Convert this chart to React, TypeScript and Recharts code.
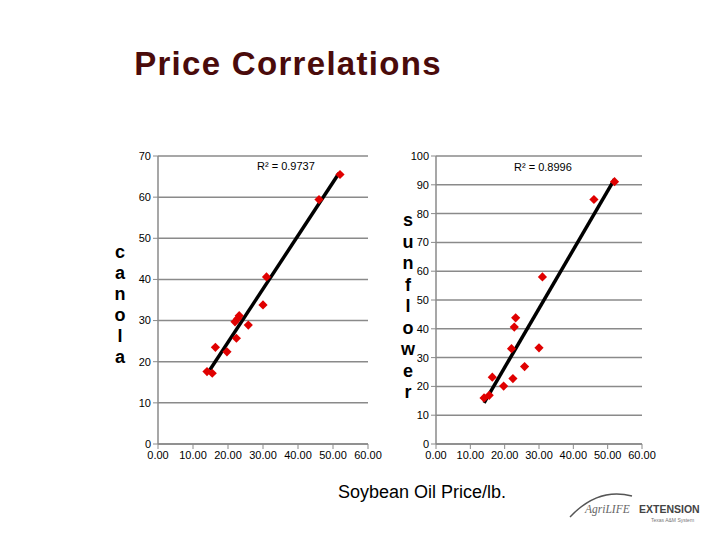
import { ScatterChart, Scatter, XAxis, YAxis, CartesianGrid } from 'recharts'

// soybean oil price (x) shared by both panels
const soyPrice = [52.0, 46.0, 31.0, 30.0, 23.2, 22.8, 22.0, 25.8, 22.4, 16.4, 19.7, 14.0, 15.5]
const canolaPrice = [65.5, 59.4, 40.6, 33.8, 31.2, 30.5, 29.7, 28.9, 25.7, 23.5, 22.4, 17.6, 17.2]
const sunflowerPrice = [91.1, 84.9, 58.0, 33.4, 43.8, 40.6, 33.1, 26.9, 22.7, 23.2, 20.1, 16.0, 16.9]

// trendline end points as drawn on the slide
const canolaTrendX = [14.8, 51.7]
const canolaTrendY = [18.0, 65.8]
const sunTrendX = [14.0, 52.0]
const sunTrendY = [14.3, 92.0]

const xTicks = [0, 10, 20, 30, 40, 50, 60]
const canolaTicks = [0, 10, 20, 30, 40, 50, 60, 70]
const sunTicks = [0, 10, 20, 30, 40, 50, 60, 70, 80, 90, 100]

const canolaR2 = 'R² = 0.9737'
const sunR2 = 'R² = 0.8996'

const FONT = '"Liberation Sans", Arial, sans-serif'
const GRID = '#8a8a8a'
const RED = '#e00000'

const zip = (xs: number[], ys: number[]) => xs.map((x, i) => ({ x, y: ys[i] }))

const Diamond = (p: any) => {
  const { cx, cy } = p
  const r = 4.6
  return <path d={`M${cx},${cy - r}L${cx + r},${cy}L${cx},${cy + r}L${cx - r},${cy}Z`} fill={RED} />
}
const NoDot = () => <g />

function Panel({
  x, y, width, yAxisWidth, yMax, yTicks, points, trend,
}: {
  x: number; y: number; width: number; yAxisWidth: number; yMax: number
  yTicks: number[]; points: { x: number; y: number }[]; trend: { x: number; y: number }[]
}) {
  const tick = { fontSize: 11, fill: '#000', fontFamily: FONT }
  return (
    <div style={{ position: 'absolute', left: x, top: y }}>
      <ScatterChart width={width} height={330} margin={{ top: 16, right: 20, bottom: 0, left: 0 }}>
        <CartesianGrid vertical={false} stroke={GRID} strokeWidth={1.5} />
        <XAxis
          type="number" dataKey="x" domain={[0, 60]} ticks={xTicks} height={26}
          tickFormatter={(v: number) => v.toFixed(2)} tick={tick} tickSize={5}
          axisLine={{ stroke: GRID, strokeWidth: 1.5 }} tickLine={{ stroke: GRID }}
          interval={0}
        />
        <YAxis
          type="number" dataKey="y" domain={[0, yMax]} ticks={yTicks} width={yAxisWidth}
          tick={tick} tickSize={5} axisLine={{ stroke: GRID, strokeWidth: 1.5 }}
          tickLine={{ stroke: GRID }} interval={0}
        />
        <Scatter data={trend} line={{ stroke: '#000', strokeWidth: 3.5 }} shape={NoDot} isAnimationActive={false} />
        <Scatter data={points} shape={Diamond} isAnimationActive={false} />
      </ScatterChart>
    </div>
  )
}

const vertical = (word: string) => word.split('').map((c, i) => <div key={i}>{c}</div>)

export default function App() {
  return (
    <div style={{ position: 'absolute', left: 0, top: 0, width: 720, height: 540, background: '#fff', fontFamily: FONT }}>
      <div style={{ position: 'absolute', left: 0, width: 576, top: 45, textAlign: 'center', fontSize: 33, letterSpacing: 1.3, fontWeight: 'bold', color: '#4a0b0b' }}>
        Price Correlations
      </div>

      <Panel x={100} y={140} width={288} yAxisWidth={58} yMax={70} yTicks={canolaTicks}
        points={zip(soyPrice, canolaPrice)} trend={zip(canolaTrendX, canolaTrendY)} />
      <Panel x={380} y={140} width={282} yAxisWidth={56} yMax={100} yTicks={sunTicks}
        points={zip(soyPrice, sunflowerPrice)} trend={zip(sunTrendX, sunTrendY)} />

      <div style={{ position: 'absolute', left: 257, top: 160, fontSize: 11 }}>{canolaR2}</div>
      <div style={{ position: 'absolute', left: 514, top: 161, fontSize: 11 }}>{sunR2}</div>

      <div style={{ position: 'absolute', left: 110, width: 20, top: 242, textAlign: 'center', fontSize: 18, fontWeight: 'bold', lineHeight: '21px' }}>
        {vertical('canola')}
      </div>
      <div style={{ position: 'absolute', left: 398, width: 20, top: 210, textAlign: 'center', fontSize: 18, fontWeight: 'bold', lineHeight: '21.5px' }}>
        {vertical('sunflower')}
      </div>

      <div style={{ position: 'absolute', left: 338, top: 482, fontSize: 18 }}>Soybean Oil Price/lb.</div>

      <svg style={{ position: 'absolute', left: 560, top: 485 }} width={160} height={50}>
        <path d="M10,32 Q38,2 72,11" stroke="#555" strokeWidth={1.4} fill="none" />
        <text x={25} y={28} fontSize={11.5} fontStyle="italic" fontFamily="'Liberation Serif', serif" fill="#666">AgriLIFE</text>
        <text x={79} y={28} fontSize={10.5} fontWeight="bold" fontFamily={FONT} fill="#444">EXTENSION</text>
        <text x={91} y={37} fontSize={5} fontFamily={FONT} fill="#777">Texas A&amp;M System</text>
      </svg>
    </div>
  )
}
